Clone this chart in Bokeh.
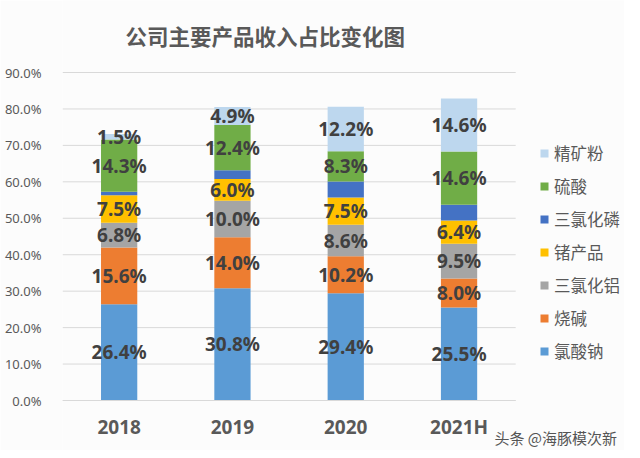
from bokeh.plotting import figure
from bokeh.models import (ColumnDataSource, Legend, LegendItem, NumeralTickFormatter,
                          FixedTicker, Label, Range1d)
from bokeh.core.properties import value
from bokeh.embed import file_html
from bokeh.resources import INLINE

title_text = "公司主要产品收入占比变化图"
watermark = "头条 @海豚模次新"
years = ["2018", "2019", "2020", "2021H"]
series = ["氯酸钠", "烧碱", "三氯化铝", "锗产品", "三氯化磷", "硫酸", "精矿粉"]
v_naclo3 = [26.4, 30.8, 29.4, 25.5]
v_naoh = [15.6, 14.0, 10.2, 8.0]
v_alcl3 = [6.8, 10.0, 8.6, 9.5]
v_ge = [7.5, 6.0, 7.5, 6.4]
v_pcl3 = [1.0, 2.4, 4.4, 4.3]
v_h2so4 = [14.3, 12.4, 8.3, 14.6]
v_ore = [1.5, 4.9, 12.2, 14.6]
show_label = [True, True, True, True, False, True, True]
colors = ["#5B9BD5", "#ED7D31", "#A5A5A5", "#FFC000", "#4472C4", "#70AD47", "#BDD7EE"]
y_ticks = [0, 0.1, 0.2, 0.3, 0.4, 0.5, 0.6, 0.7, 0.8, 0.9]

values = [v_naclo3, v_naoh, v_alcl3, v_ge, v_pcl3, v_h2so4, v_ore]
xs = [i + 0.5 for i in range(len(years))]

FONT = "Noto Sans CJK SC"
BG = "#fcfcfc"

# layout in canvas pixels
W, H = 624, 450
LEFT = 62            # left edge of category area
TOP90, ZERO = 72, 400  # pixel rows of 90% and 0%
PX_PER_CAT = 113.3
PX_PER_UNIT = (ZERO - TOP90) / 0.9
x_max = (W - LEFT) / PX_PER_CAT
y_max = 0.9 + TOP90 / PX_PER_UNIT
y_min = -(H - ZERO) / PX_PER_UNIT


def px_x(px):
    return (px - LEFT) / PX_PER_CAT


def px_y(py):
    return (ZERO - py) / PX_PER_UNIT


p = figure(x_range=Range1d(0, x_max), y_range=Range1d(y_min, y_max), width=W, height=H,
           output_backend="svg", toolbar_location=None,
           min_border_left=LEFT, min_border_right=0, min_border_top=0,
           min_border_bottom=0, background_fill_color=BG, border_fill_color=BG,
           outline_line_color=None)

# gridlines limited to the category area
p.segment(x0=[0] * len(y_ticks), x1=[len(years)] * len(y_ticks), y0=y_ticks, y1=y_ticks,
          line_color="#d9d9d9", line_width=1)

bottoms = [0.0] * len(years)
renderers = []
for name, vals, col, lab in zip(series, values, colors, show_label):
    fr = [v / 100 for v in vals]
    tops = [b + f for b, f in zip(bottoms, fr)]
    src = ColumnDataSource(dict(x=xs, bottom=bottoms, top=tops,
                                mid=[(b + t) / 2 for b, t in zip(bottoms, tops)],
                                txt=[f"{v:.1f}%" for v in vals]))
    r = p.vbar(x="x", bottom="bottom", top="top", width=0.32, source=src,
               fill_color=col, line_color=None)
    renderers.append((name, r))
    if lab:
        p.text(x="x", y="mid", text="txt", source=src, text_align="center",
               text_baseline="middle", text_font=value("Noto Sans"),
               text_font_size="19px", text_font_style="bold", text_color="#404040")
    bottoms = tops

items = [LegendItem(label=n, renderers=[r]) for n, r in reversed(renderers)]
legend = Legend(items=items, location=(477, 87), orientation="vertical",
                label_text_font=FONT, label_text_font_size="16.5px",
                label_text_color="#595959", glyph_width=10, glyph_height=10,
                label_height=20, spacing=9, label_standoff=5, padding=0, margin=0,
                background_fill_alpha=0, border_line_color=None)
p.add_layout(legend, "center")

p.yaxis.ticker = FixedTicker(ticks=y_ticks)
p.yaxis.formatter = NumeralTickFormatter(format="0.0%")
p.yaxis.axis_line_color = None
p.yaxis.major_tick_line_color = None
p.yaxis.minor_tick_line_color = None
p.yaxis.major_label_text_font = "Noto Sans"
p.yaxis.major_label_text_font_size = "13px"
p.yaxis.major_label_text_color = "#595959"
p.yaxis.major_label_standoff = 15

p.xaxis.fixed_location = 0
p.xaxis.ticker = FixedTicker(ticks=xs)
p.xaxis.major_label_overrides = {x: y for x, y in zip(xs, years)}
p.xaxis.bounds = (0, len(years))
p.xaxis.axis_line_color = "#d9d9d9"
p.xaxis.major_tick_line_color = None
p.xaxis.minor_tick_line_color = None
p.xaxis.major_label_text_font = "Noto Sans"
p.xaxis.major_label_text_font_size = "19px"
p.xaxis.major_label_text_font_style = "bold"
p.xaxis.major_label_text_color = "#595959"
p.xaxis.major_label_standoff = 7

p.xgrid.grid_line_color = None
p.ygrid.grid_line_color = None

title = Label(x=px_x(125), y=px_y(35), text=title_text, text_font=FONT,
              text_font_size="21.5px", text_font_style="bold", text_baseline="middle",
              text_color="#595959")
p.add_layout(title)

wm = Label(x=px_x(494), y=px_y(437), text=watermark, text_font=FONT,
           text_font_size="15px", text_baseline="middle", text_color="#555555")
p.add_layout(wm)

open("out.html", "w").write(file_html(p, INLINE))
